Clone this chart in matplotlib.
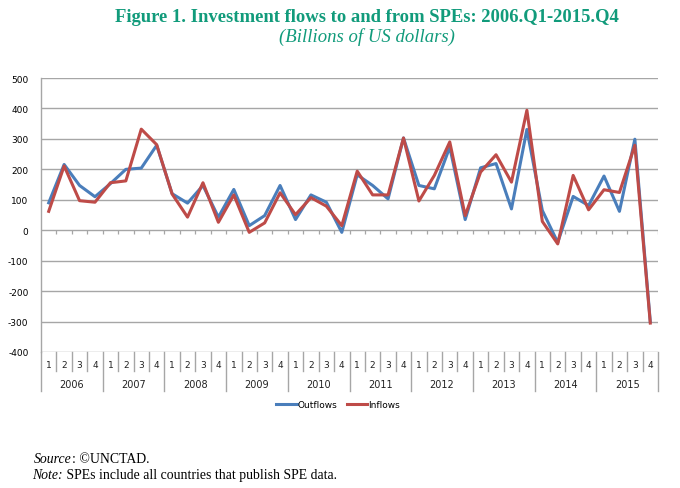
import matplotlib
matplotlib.use('Agg')
import matplotlib.pyplot as plt
import numpy as np

years = [str(y) for y in range(2006, 2016)]
quarters = ['1', '2', '3', '4']
outflows = [90, 216, 147, 110, 153, 200, 204, 279, 120, 89, 147, 43,
            134, 15, 48, 147, 35, 116, 92, -7, 182, 147, 103, 303,
            147, 136, 273, 35, 205, 219, 70, 331, 65, -40, 111, 81,
            178, 62, 299, -300]
inflows = [62, 211, 97, 92, 156, 162, 332, 281, 119, 43, 156, 26,
           116, -7, 24, 123, 51, 107, 79, 15, 194, 116, 116, 303,
           96, 180, 290, 48, 191, 248, 158, 394, 29, -45, 180, 67,
           133, 124, 279, -305]
yticks = list(range(-400, 501, 100))

W, H = 680, 489
fig = plt.figure(figsize=(W / 100, H / 100), dpi=100)
ax_left, ax_right, ax_top, ax_bot = 41, 658, 79, 353
ax_h = ax_bot - ax_top
ax = fig.add_axes([ax_left / W, 1 - ax_bot / H, (ax_right - ax_left) / W, ax_h / H])

grid_c = '#a6a6a6'
blue = '#4a7ebb'
red = '#be4b48'
n = len(outflows)
x = np.arange(n) + 0.5
ax.plot(x, outflows, color=blue, lw=2.2, label='Outflows', zorder=3)
ax.plot(x, inflows, color=red, lw=2.2, label='Inflows', zorder=4)

ax.set_xlim(0, n)
ax.set_ylim(-400, 500)
ax.set_yticks(yticks)
ax.set_yticklabels([str(v) for v in yticks], fontsize=6.5, family='DejaVu Sans')
ax.tick_params(axis='y', length=0, pad=9)
ax.set_xticks([])
ax.grid(axis='y', color=grid_c, lw=1.0)
ax.set_axisbelow(True)
for s in ['top', 'right', 'bottom']:
    ax.spines[s].set_visible(False)
ax.spines['left'].set_color(grid_c)
ax.spines['left'].set_linewidth(1.0)

# small tick marks under the zero line
ax.vlines(np.arange(1, n + 1), -13, 0, color=grid_c, lw=0.9, zorder=1)

# category table below the plot
tr = ax.get_xaxis_transform()
q_bot = -19 / ax_h
y_bot = -39 / ax_h
for k in range(0, n + 1):
    yb = y_bot if k % 4 == 0 else q_bot
    ax.plot([k, k], [0, yb], transform=tr, color=grid_c, lw=1.0, clip_on=False)
for i in range(n):
    ax.text(i + 0.5, -13 / ax_h, quarters[i % 4], transform=tr, ha='center', va='center',
            fontsize=6.5, color='#222222')
for j, yr in enumerate(years):
    ax.text(4 * j + 2, -32 / ax_h, yr, transform=tr, ha='center', va='center',
            fontsize=7, color='#222222')

fig.legend(loc='center', bbox_to_anchor=(338 / W, 1 - 406 / H), ncol=2, frameon=False,
           fontsize=6.5, handlelength=2.3, handletextpad=0.1, columnspacing=1.0)

teal = '#119b7b'
fig.text(367 / W, 1 - 17 / H, 'Figure 1. Investment flows to and from SPEs: 2006.Q1-2015.Q4',
         ha='center', va='center', fontsize=13.4, weight='bold', family='Liberation Serif', color=teal)
fig.text(367 / W, 1 - 37 / H, '(Billions of US dollars)', ha='center', va='center',
         fontsize=13.5, style='italic', family='Liberation Serif', color=teal)

renderer = fig.canvas.get_renderer()
def mixed(xpx, ypx, parts):
    xf = xpx / W
    for txt, st in parts:
        t = fig.text(xf, 1 - ypx / H, txt, ha='left', va='center', fontsize=9.9,
                     family='Liberation Serif', style=st, color='black')
        bb = t.get_window_extent(renderer=renderer)
        xf = bb.x1 / W

mixed(34, 460, [('Source', 'italic'), (': \u00a9UNCTAD.', 'normal')])
mixed(32, 476, [('Note:', 'italic'), (' SPEs include all countries that publish SPE data.', 'normal')])

fig.savefig('out.png', dpi=100)
